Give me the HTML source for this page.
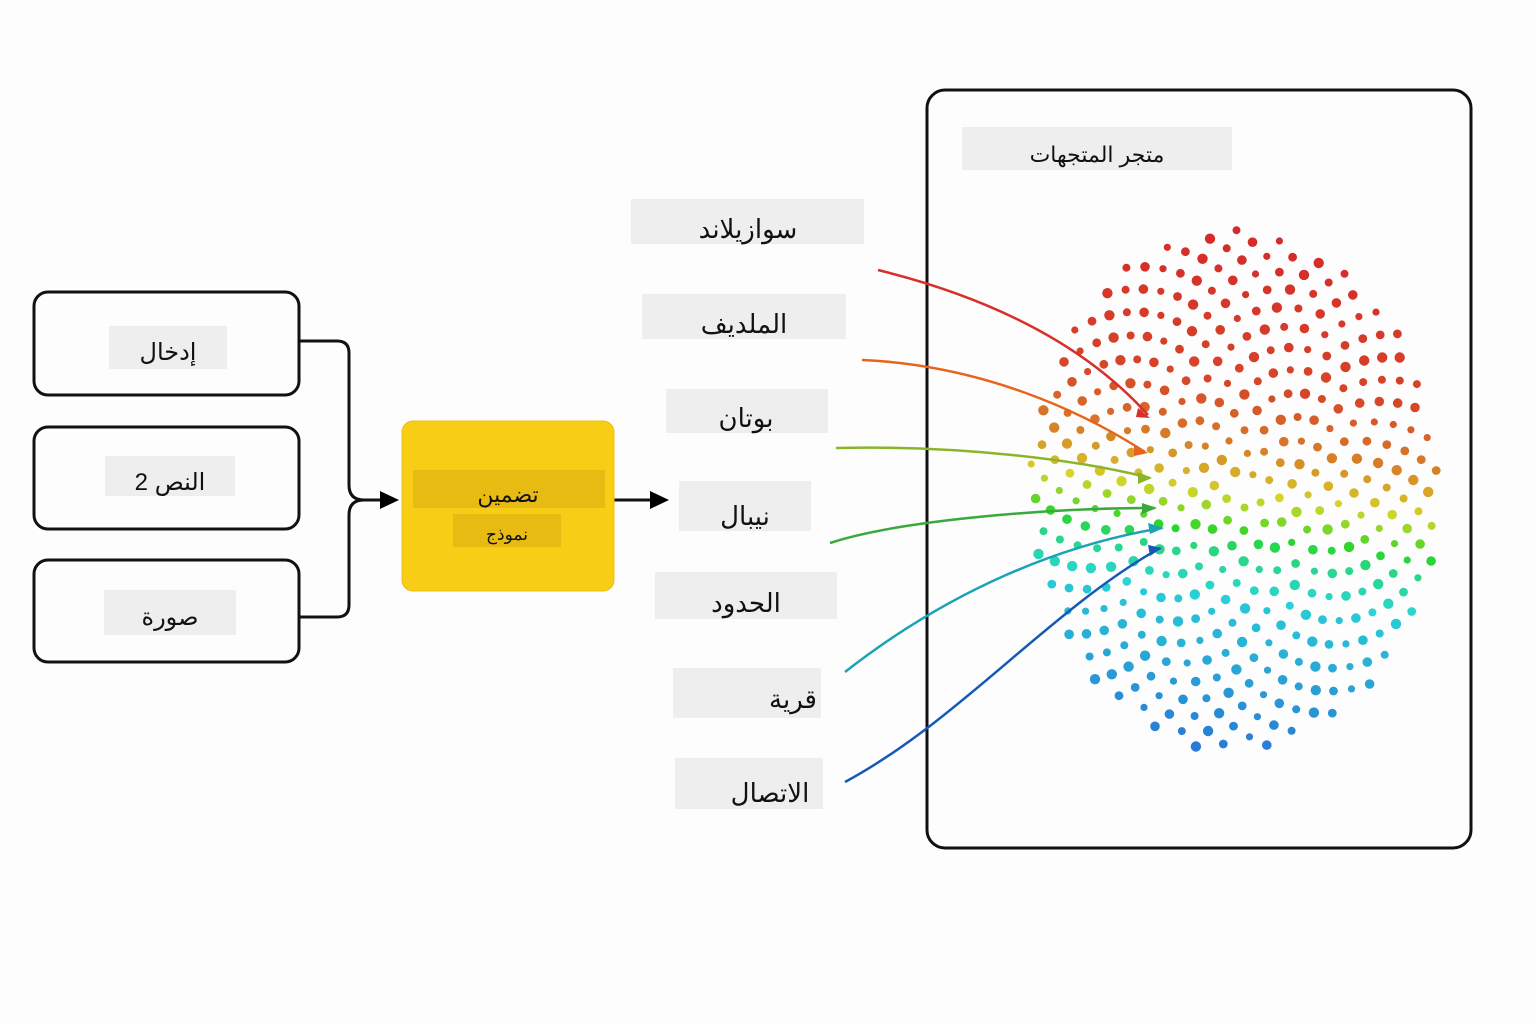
<!DOCTYPE html>
<html><head><meta charset="utf-8"><style>
html,body{margin:0;padding:0;background:#fdfdfd;}
svg{display:block}
text{font-family:"Liberation Sans","DejaVu Sans",sans-serif;fill:#111;}
</style></head><body>
<svg id="s" width="1536" height="1024" viewBox="0 0 1536 1024" xmlns="http://www.w3.org/2000/svg">
<g fill="none" stroke="#111" stroke-width="3">
<rect x="34" y="292" width="265" height="103" rx="14"/>
<rect x="34" y="427" width="265" height="102" rx="14"/>
<rect x="34" y="560" width="265" height="102" rx="14"/>
<rect x="927" y="90" width="544" height="758" rx="18"/>
<path d="M299,341 H337 Q349,341 349,353 V485 Q349,500 364,500 H384"/>
<path d="M299,617 H337 Q349,617 349,605 V515 Q349,500 364,500"/>
<path d="M614,500 H652"/>
</g>
<path d="M380,491 L399,500 L380,509z" fill="#000"/>
<path d="M650,491 L669,500 L650,509z" fill="#000"/>
<rect x="109" y="326" width="118" height="43" fill="#eeeeee"/>
<rect x="105" y="456" width="130" height="40" fill="#eeeeee"/>
<rect x="104" y="590" width="132" height="45" fill="#eeeeee"/>
<text x="168" y="360" font-size="24" text-anchor="middle">إدخال</text>
<text x="170" y="490" font-size="24" text-anchor="middle">2 النص</text>
<text x="170" y="625" font-size="24" text-anchor="middle">صورة</text>
<rect x="402" y="421" width="212" height="170" rx="11" fill="#f8cd15" stroke="#eebd10"/>
<rect x="413" y="470" width="192" height="38" fill="#e8bb12"/>
<rect x="453" y="514" width="108" height="33" fill="#e8bb12"/>
<text x="508" y="502" font-size="22" text-anchor="middle">تضمين</text>
<text x="507" y="540" font-size="17" text-anchor="middle">نموذج</text>
<rect x="962" y="127" width="270" height="43" fill="#eeeeee"/>
<text x="1097" y="162" font-size="22" text-anchor="middle">متجر المتجهات</text>
<g fill="#eeeeee">
<rect x="631" y="199" width="233" height="45"/>
<rect x="642" y="294" width="204" height="45"/>
<rect x="666" y="389" width="162" height="44"/>
<rect x="679" y="481" width="132" height="50"/>
<rect x="655" y="572" width="182" height="47"/>
<rect x="673" y="668" width="148" height="50"/>
<rect x="675" y="758" width="148" height="51"/>
</g>
<g font-size="26" text-anchor="middle">
<text x="748" y="238">سوازيلاند</text>
<text x="744" y="333">الملديف</text>
<text x="746" y="427">بوتان</text>
<text x="745" y="525">نيبال</text>
<text x="746" y="612">الحدود</text>
<text x="793" y="708">قرية</text>
<text x="770" y="802">الاتصال</text>
</g>
<g id="dots"></g>
<g fill="none" stroke-width="2.5">
<path d="M878,270 C1000,300 1090,350 1148,415" stroke="#d7302a"/>
<path d="M862,360 C980,365 1080,410 1145,452" stroke="#e8641c"/>
<path d="M836,448 C960,445 1080,460 1150,478" stroke="#8ab52a"/>
<path d="M830,543 C900,520 1050,508 1155,508" stroke="#3aa83c"/>
<path d="M845,672 C950,590 1060,545 1162,528" stroke="#1aa3b5"/>
<path d="M845,782 C960,720 1050,610 1160,548" stroke="#1559b5"/>
</g>
<g>
<path d="M1138,408 L1150,418 L1136,417z" fill="#d7302a"/>
<path d="M1134,445 L1148,453 L1134,456z" fill="#e8641c"/>
<path d="M1138,472 L1152,478 L1138,484z" fill="#8ab52a"/>
<path d="M1142,503 L1157,508 L1142,514z" fill="#3aa83c"/>
<path d="M1148,523 L1164,528 L1150,534z" fill="#1aa3b5"/>
<path d="M1148,545 L1162,548 L1150,556z" fill="#1559b5"/>
</g>
</svg>
<script>
(function(){
var g=document.getElementById('dots'),ns='http://www.w3.org/2000/svg';
var cx=1234,cy=490,rx=205,ry=262,N=420,ga=Math.PI*(3-Math.sqrt(5));
function hue(t){
 var P=[[0,0],[0.3,10],[0.42,30],[0.5,55],[0.56,95],[0.62,150],[0.72,185],[1,212]];
 for(var k=1;k<P.length;k++){if(t<=P[k][0]){var a=P[k-1],b=P[k];return a[1]+(b[1]-a[1])*(t-a[0])/(b[0]-a[0]);}}
 return 212;
}
for(var i=1;i<N;i++){
 var r=Math.sqrt(i/N),a=i*ga;
 var x=cx+rx*r*Math.cos(a),y=cy+ry*r*Math.sin(a);
 var t=(y-228+0.12*(cx-x))/(522);if(t<0)t=0;if(t>1)t=1;
 var h=hue(t);
 var c=document.createElementNS(ns,'circle');
 c.setAttribute('cx',x.toFixed(1));c.setAttribute('cy',y.toFixed(1));
 c.setAttribute('r',(3.6+1.6*((i*7)%5)/4).toFixed(1));
 c.setAttribute('fill','hsl('+h.toFixed(0)+',68%,50%)');
 g.appendChild(c);
}})();
</script>
</body></html>
